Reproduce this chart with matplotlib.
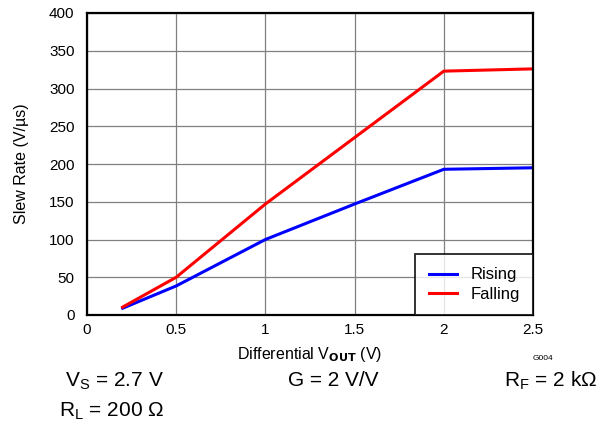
import matplotlib.pyplot as plt
import numpy as np

plt.rcParams['font.family'] = ['Liberation Sans', 'DejaVu Sans']

vout = [0.2, 0.5, 1.0, 1.5, 2.0, 2.5]
rising = [9, 38.5, 100, 147, 193, 195]
falling = [10.5, 50, 147, 235, 323, 326]

x_ticks = [0, 0.5, 1, 1.5, 2, 2.5]
x_tick_labels = ['0', '0.5', '1', '1.5', '2', '2.5']
y_ticks = np.arange(0, 401, 50)

fig = plt.figure(figsize=(6.12, 4.26), dpi=100)
ax = fig.add_axes([87 / 612, 1 - 315 / 426, 446 / 612, 302 / 426])

ax.plot(vout, rising, color='#0000ff', linewidth=2.2, label='Rising')
ax.plot(vout, falling, color='#ff0000', linewidth=2.2, label='Falling')

ax.set_xlim(0, 2.5)
ax.set_ylim(0, 400)
ax.set_xticks(x_ticks)
ax.set_xticklabels(x_tick_labels)
ax.set_yticks(y_ticks)
ax.grid(True, color='#808080', linewidth=0.9)
ax.tick_params(axis='both', length=0, labelsize=11)
ax.tick_params(axis='x', pad=6)
ax.tick_params(axis='y', pad=9)
for s in ax.spines.values():
    s.set_linewidth(1.6)
    s.set_color('black')

ax.set_xlabel(r'Differential V$_{\mathbf{OUT}}$ (V)', fontsize=11.5, va='center')
ax.xaxis.set_label_coords(0.5, (315 - 355) / 302)
ax.set_ylabel('Slew Rate (V/µs)', fontsize=11.5, va='center')
ax.yaxis.set_label_coords((22 - 87) / 446, 0.5)

leg = ax.legend(loc='lower right', fontsize=12, frameon=True, fancybox=False,
                borderaxespad=0, handlelength=1.7, handletextpad=0.8,
                borderpad=0.8, labelspacing=0.25)
leg.get_frame().set_edgecolor('black')
leg.get_frame().set_linewidth(1.4)

fig.text(543 / 612, 1 - 359 / 426, 'G004', fontsize=6, ha='center', va='center')
fig.text(65 / 612, 1 - 381 / 426, r'V$_\mathregular{S}$ = 2.7 V', fontsize=15, va='center')
fig.text(288 / 612, 1 - 381 / 426, 'G = 2 V/V', fontsize=15, va='center')
fig.text(597 / 612, 1 - 381 / 426, r'R$_\mathregular{F}$ = 2 kΩ', fontsize=15, va='center', ha='right')
fig.text(59 / 612, 1 - 411 / 426, r'R$_\mathregular{L}$ = 200 Ω', fontsize=15, va='center')

fig.savefig('out.png', dpi=100)
